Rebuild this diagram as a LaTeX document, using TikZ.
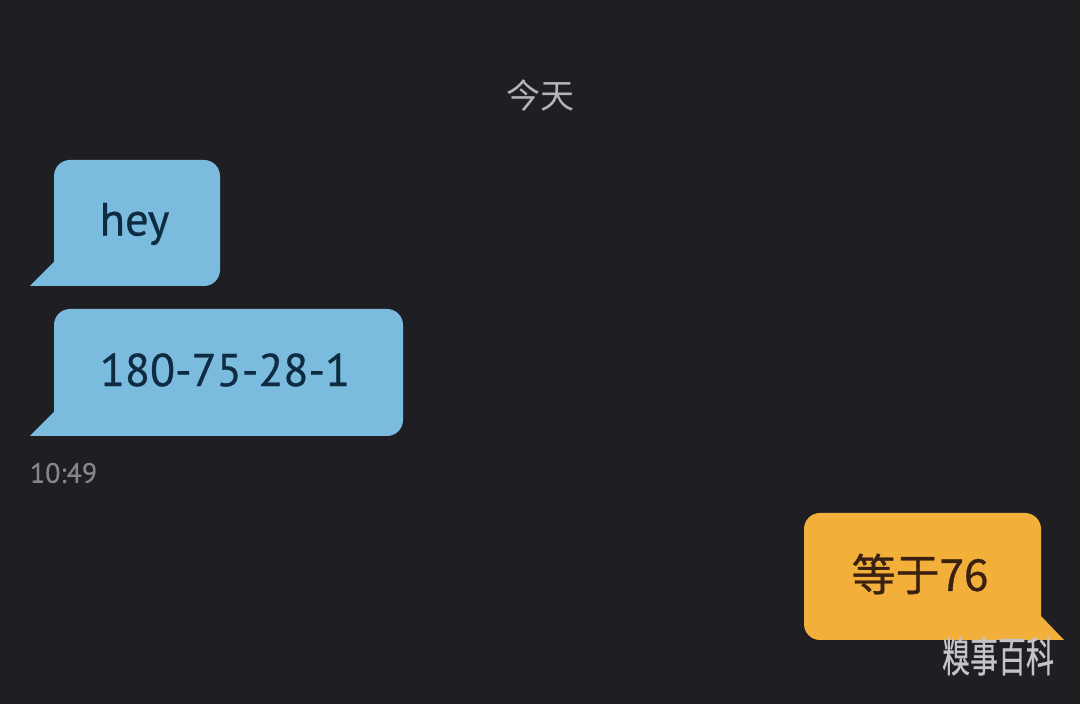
\documentclass[tikz,border=0pt]{standalone}
\usepackage{fontspec}
\setmainfont[FakeBold=0.5]{PT Sans}
\newfontfamily\msgfont[FakeBold=0.6]{PT Sans}
\newfontfamily\cjk{Noto Sans CJK SC}
\newfontfamily\cjkb[FakeBold=0.7]{Noto Sans CJK SC}
\definecolor{bgc}{HTML}{1F1F23}
\definecolor{bluec}{HTML}{7ABBDE}
\definecolor{orangec}{HTML}{F2AF3A}
\definecolor{inkblue}{HTML}{0F2B42}
\definecolor{inkbrown}{HTML}{3A2010}
\definecolor{greyc}{HTML}{B4B4B6}
\definecolor{timec}{HTML}{85868A}
\definecolor{markc}{HTML}{C4C4C6}
\tikzset{
  x=1pt,y=1pt,
  bubbleblue/.style={fill=bluec,draw=none},
  bubbleorange/.style={fill=orangec,draw=none},
  msg/.style={inner sep=0pt,anchor=center,text=inkblue},
}
\begin{document}
\begin{tikzpicture}
\useasboundingbox (0,0) rectangle (1080,704);
\fill[bgc] (0,0) rectangle (1080,704);
% left bubble 1
\fill[bubbleblue] (30,418) -- (54,442) -- (54,528) arc[start angle=180,end angle=90,radius=16] -- (204,544)
  arc[start angle=90,end angle=0,radius=16] -- (220,434) arc[start angle=0,end angle=-90,radius=16] -- cycle;
% left bubble 2
\fill[bubbleblue] (30,268) -- (54,292) -- (54,379) arc[start angle=180,end angle=90,radius=16] -- (387,395)
  arc[start angle=90,end angle=0,radius=16] -- (403,284) arc[start angle=0,end angle=-90,radius=16] -- cycle;
% right bubble
\fill[bubbleorange] (1064,64) -- (1041,88) -- (1041,175) arc[start angle=0,end angle=90,radius=16] -- (820,191)
  arc[start angle=90,end angle=180,radius=16] -- (804,80) arc[start angle=180,end angle=270,radius=16] -- cycle;
\node[inner sep=0pt,text=greyc,font=\cjk\fontsize{34}{34}\selectfont] (today) at (540,608) {今天};
\node[msg,font=\msgfont\fontsize{46.5}{46}\selectfont] (hey) at (134.5,480) {hey};
\node[msg,font=\msgfont\fontsize{46}{46}\selectfont] (num) at (225,334) {180-75-28-1};
\node[inner sep=0pt,text=timec,font=\fontsize{28}{28}\selectfont] (time) at (63.5,231) {10:49};
\node[inner sep=0pt,text=inkbrown,font=\cjkb\fontsize{44}{44}\selectfont] (eq) at (920,130) {等于76};
\node[inner sep=0pt,text=markc,yscale=1.5,font=\cjkb\fontsize{28}{28}\selectfont] (mark) at (998,48) {糗事百科};
\end{tikzpicture}
\end{document}
